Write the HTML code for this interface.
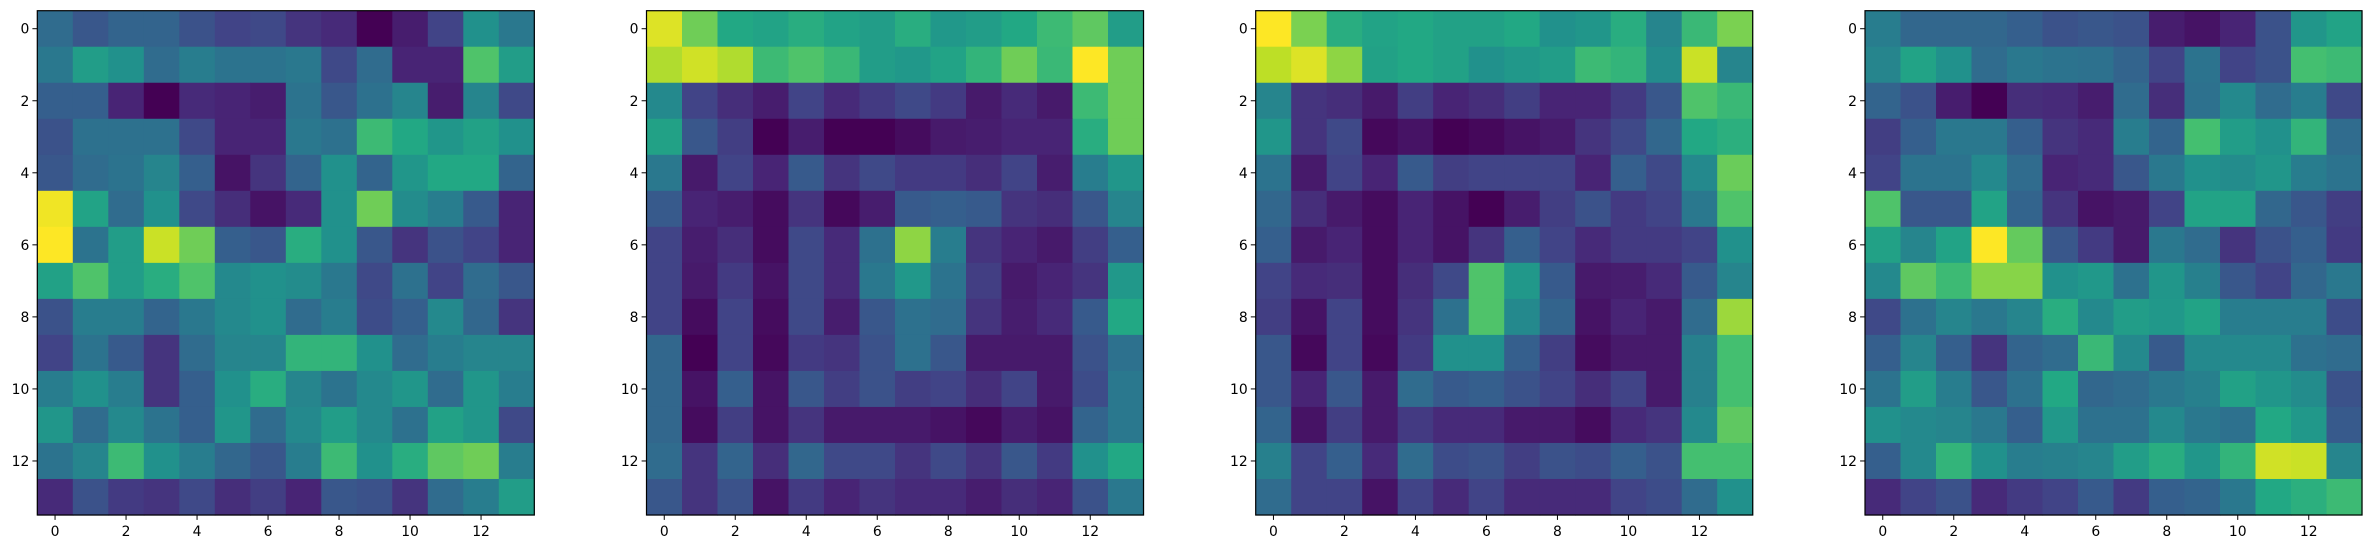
<!DOCTYPE html>
<html><head><meta charset="utf-8">
<style>html,body{margin:0;padding:0;background:#fff;}svg{display:block;}</style>
</head><body>
<svg id="fig" width="2372" height="549" viewBox="0 0 2372 549" xmlns="http://www.w3.org/2000/svg"></svg>
<script>
const rowLabels = [0,1,2,3,4,5,6,7,8,9,10,11,12,13];
const tickLabels = [0,2,4,6,8,10,12];
const heat1 = [
[0.35,0.27,0.32,0.32,0.25,0.2,0.22,0.15,0.12,0.0,0.08,0.2,0.5,0.4],
[0.4,0.55,0.5,0.35,0.42,0.38,0.38,0.4,0.22,0.35,0.1,0.1,0.72,0.55],
[0.3,0.3,0.1,0.0,0.12,0.1,0.08,0.38,0.27,0.37,0.45,0.08,0.45,0.22],
[0.25,0.37,0.37,0.37,0.22,0.1,0.1,0.4,0.37,0.68,0.6,0.52,0.57,0.5],
[0.27,0.35,0.38,0.45,0.3,0.05,0.15,0.32,0.5,0.32,0.52,0.6,0.6,0.32],
[0.98,0.58,0.35,0.5,0.22,0.13,0.05,0.12,0.5,0.78,0.48,0.42,0.28,0.1],
[1.0,0.38,0.55,0.92,0.78,0.3,0.27,0.62,0.5,0.27,0.15,0.25,0.2,0.1],
[0.57,0.72,0.55,0.62,0.72,0.47,0.5,0.48,0.4,0.22,0.37,0.2,0.35,0.27],
[0.25,0.42,0.42,0.32,0.4,0.47,0.5,0.35,0.42,0.23,0.3,0.47,0.33,0.15],
[0.2,0.38,0.28,0.15,0.35,0.45,0.45,0.65,0.65,0.5,0.35,0.42,0.45,0.45],
[0.42,0.5,0.42,0.15,0.3,0.5,0.62,0.45,0.38,0.47,0.52,0.35,0.52,0.42],
[0.52,0.35,0.47,0.38,0.3,0.52,0.35,0.47,0.55,0.47,0.37,0.57,0.52,0.22],
[0.38,0.45,0.68,0.5,0.42,0.33,0.27,0.42,0.68,0.5,0.62,0.75,0.78,0.42],
[0.12,0.25,0.17,0.15,0.22,0.13,0.18,0.1,0.27,0.25,0.15,0.35,0.42,0.55]];
const heat2 = [
[0.95,0.78,0.6,0.58,0.62,0.58,0.55,0.62,0.53,0.55,0.6,0.68,0.75,0.55],
[0.88,0.93,0.88,0.68,0.72,0.67,0.55,0.53,0.58,0.65,0.78,0.67,1.0,0.78],
[0.47,0.2,0.13,0.08,0.2,0.12,0.17,0.22,0.17,0.07,0.12,0.07,0.68,0.78],
[0.57,0.27,0.18,0.0,0.08,0.0,0.0,0.03,0.07,0.08,0.1,0.1,0.62,0.78],
[0.4,0.07,0.2,0.1,0.28,0.15,0.22,0.17,0.17,0.13,0.2,0.08,0.42,0.52],
[0.28,0.1,0.08,0.03,0.15,0.02,0.08,0.28,0.3,0.28,0.15,0.13,0.27,0.45],
[0.2,0.08,0.13,0.03,0.22,0.12,0.37,0.83,0.42,0.15,0.1,0.07,0.18,0.3],
[0.2,0.07,0.17,0.05,0.22,0.12,0.4,0.53,0.38,0.18,0.07,0.1,0.15,0.53],
[0.2,0.03,0.2,0.03,0.22,0.08,0.27,0.37,0.35,0.15,0.08,0.12,0.28,0.6],
[0.33,0.0,0.2,0.02,0.17,0.15,0.25,0.37,0.27,0.07,0.07,0.07,0.25,0.37],
[0.33,0.05,0.3,0.05,0.27,0.18,0.25,0.18,0.2,0.13,0.2,0.07,0.23,0.4],
[0.33,0.03,0.18,0.05,0.15,0.07,0.07,0.07,0.05,0.02,0.08,0.05,0.32,0.4],
[0.35,0.15,0.32,0.13,0.33,0.22,0.22,0.15,0.22,0.15,0.27,0.17,0.5,0.6],
[0.27,0.15,0.25,0.05,0.17,0.1,0.15,0.12,0.12,0.08,0.13,0.1,0.25,0.4]];
const heat3 = [
[1.0,0.8,0.62,0.58,0.6,0.57,0.57,0.6,0.5,0.52,0.62,0.45,0.67,0.8],
[0.9,0.95,0.83,0.57,0.6,0.57,0.5,0.53,0.55,0.68,0.65,0.48,0.92,0.45],
[0.45,0.15,0.13,0.07,0.18,0.1,0.13,0.18,0.1,0.1,0.17,0.27,0.72,0.67],
[0.52,0.15,0.22,0.02,0.05,0.0,0.02,0.05,0.07,0.15,0.22,0.33,0.6,0.63],
[0.38,0.07,0.2,0.1,0.28,0.18,0.2,0.2,0.2,0.1,0.3,0.22,0.47,0.77],
[0.33,0.13,0.07,0.03,0.1,0.05,0.0,0.08,0.18,0.25,0.17,0.2,0.4,0.72],
[0.3,0.07,0.1,0.03,0.1,0.05,0.15,0.3,0.2,0.12,0.17,0.17,0.2,0.5],
[0.2,0.12,0.13,0.03,0.13,0.22,0.72,0.53,0.28,0.07,0.08,0.12,0.28,0.45],
[0.18,0.05,0.2,0.03,0.15,0.37,0.72,0.47,0.32,0.05,0.1,0.07,0.35,0.85],
[0.27,0.02,0.2,0.02,0.17,0.5,0.5,0.3,0.18,0.03,0.07,0.07,0.43,0.7],
[0.27,0.1,0.27,0.07,0.35,0.28,0.3,0.25,0.2,0.13,0.2,0.07,0.43,0.7],
[0.32,0.05,0.18,0.07,0.17,0.12,0.12,0.07,0.07,0.03,0.12,0.15,0.47,0.75],
[0.43,0.2,0.3,0.12,0.35,0.23,0.25,0.18,0.25,0.23,0.3,0.25,0.7,0.7],
[0.35,0.2,0.2,0.05,0.2,0.12,0.2,0.12,0.12,0.12,0.2,0.23,0.35,0.5]];
const heat4 = [
[0.42,0.33,0.33,0.33,0.3,0.25,0.27,0.25,0.08,0.05,0.1,0.25,0.52,0.58],
[0.45,0.58,0.5,0.35,0.4,0.38,0.37,0.32,0.2,0.38,0.2,0.25,0.7,0.68],
[0.32,0.25,0.08,0.0,0.13,0.12,0.08,0.35,0.13,0.37,0.47,0.35,0.42,0.22],
[0.18,0.3,0.4,0.4,0.3,0.15,0.12,0.42,0.32,0.7,0.55,0.5,0.65,0.35],
[0.2,0.38,0.38,0.47,0.35,0.1,0.12,0.27,0.4,0.5,0.48,0.52,0.42,0.38],
[0.72,0.27,0.27,0.58,0.32,0.15,0.05,0.07,0.2,0.58,0.58,0.33,0.27,0.18],
[0.57,0.45,0.58,1.0,0.76,0.27,0.17,0.07,0.4,0.35,0.15,0.25,0.3,0.17],
[0.47,0.75,0.68,0.82,0.82,0.5,0.53,0.37,0.52,0.43,0.27,0.2,0.33,0.4],
[0.22,0.37,0.45,0.4,0.45,0.62,0.47,0.55,0.53,0.58,0.42,0.42,0.42,0.23],
[0.3,0.45,0.3,0.15,0.32,0.35,0.67,0.47,0.28,0.47,0.47,0.47,0.37,0.35],
[0.38,0.55,0.42,0.27,0.37,0.6,0.33,0.35,0.4,0.43,0.57,0.52,0.48,0.25],
[0.5,0.47,0.45,0.4,0.3,0.53,0.37,0.37,0.47,0.4,0.37,0.6,0.53,0.28],
[0.3,0.47,0.65,0.5,0.42,0.43,0.45,0.55,0.62,0.52,0.65,0.93,0.92,0.45],
[0.12,0.2,0.25,0.12,0.17,0.2,0.28,0.17,0.3,0.32,0.4,0.6,0.63,0.68]];
const panels = [heat1, heat2, heat3, heat4];

const VIR = ["#440154","#482475","#414487","#355f8d","#2a788e","#21918c","#22a884","#44bf70","#7ad151","#bddf26","#fde725"];
function hex(h){return [1,3,5].map(i=>parseInt(h.substr(i,2),16));}
function viridis(t){
  t=Math.max(0,Math.min(1,t));
  const p=t*10, i=Math.min(9,Math.floor(p)), f=p-i;
  const a=hex(VIR[i]), b=hex(VIR[i+1]);
  return "rgb("+a.map((v,k)=>Math.round(v+(b[k]-v)*f)).join(",")+")";
}
const NS="http://www.w3.org/2000/svg";
const svg=document.getElementById("fig");
const lefts=[37.3,646.5,1255.7,1865], sizeW=497, top0=10.7, sizeH=515-10.7;
function mk(tag, attrs, parent){const e=document.createElementNS(NS,tag);for(const k in attrs)e.setAttribute(k,attrs[k]);parent.appendChild(e);return e;}

panels.forEach((data,pi)=>{
  const L=lefts[pi], n=data.length, cw=sizeW/n, ch=sizeH/n;
  let mn=Infinity,mx=-Infinity;
  data.forEach(r=>r.forEach(v=>{mn=Math.min(mn,v);mx=Math.max(mx,v);}));
  const xs=j=>L+j*cw, ys=i=>top0+i*ch;
  const g=mk("g",{},svg);
  
  
  data.forEach((row,i)=>row.forEach((v,j)=>{
    const r=mk("rect",{x:xs(j),y:ys(i),width:cw+0.6,height:ch+0.6,fill:viridis((v-mn)/(mx-mn||1))},g);
    
    
  }));
  const fr=mk("rect",{x:L,y:top0,width:sizeW,height:sizeH,fill:"none",stroke:"#000","stroke-width":1.2},g);
  
  
  tickLabels.forEach(t=>{
    const cx=xs(t)+cw/2, cy=ys(t)+ch/2;
    mk("line",{x1:cx,x2:cx,y1:top0+sizeH,y2:top0+sizeH+4.9,stroke:"#000","stroke-width":1},g);
    const tx=mk("text",{x:cx,y:top0+sizeH+21,"text-anchor":"middle","font-family":"DejaVu Sans, Liberation Sans, sans-serif","font-size":13.9,fill:"#000"},g);
    tx.textContent=t;
    
    
    mk("line",{x1:L-4.9,x2:L,y1:cy,y2:cy,stroke:"#000","stroke-width":1},g);
    const ty=mk("text",{x:L-8,y:cy+5,"text-anchor":"end","font-family":"DejaVu Sans, Liberation Sans, sans-serif","font-size":13.9,fill:"#000"},g);
    ty.textContent=t;
    
    
  });
});
</script>
</body></html>
